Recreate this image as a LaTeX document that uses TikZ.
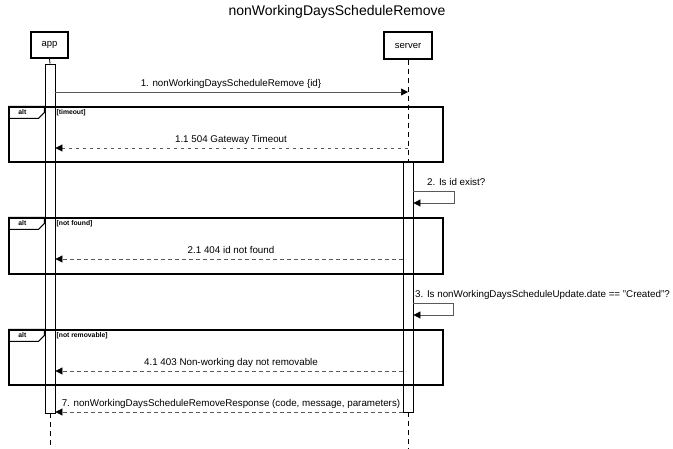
\documentclass[tikz,border=0pt]{standalone}
\usepackage{fontspec}
\setmainfont{Liberation Sans}
\usetikzlibrary{arrows.meta,calc}
\begin{document}
\begin{tikzpicture}[x=1pt,y=-1pt,
  msg/.style={draw=black!65, line width=0.7pt, -{Triangle[length=7pt,width=7pt,color=black]}},
  ret/.style={msg, dash pattern=on 3.5pt off 3.5pt},
  lbl/.style={font=\fontsize{9.8}{11}\selectfont, inner sep=0pt, anchor=base},
  actor/.style={draw, line width=1.2pt, inner sep=0pt, font=\fontsize{9.5}{10}\selectfont},
  bar/.style={draw, line width=0.8pt, fill=white, inner sep=0pt, minimum width=10pt},
  frame/.style={draw, line width=1.2pt, inner sep=0pt, minimum width=434pt},
  tab/.style={draw, line width=1pt},
  altlbl/.style={font=\bfseries\fontsize{6.8}{7}\selectfont, inner sep=0pt},
  guard/.style={font=\bfseries\fontsize{6.8}{7}\selectfont, inner sep=0pt, anchor=west},
  life/.style={draw, line width=0.8pt, dash pattern=on 5pt off 4pt}]
\useasboundingbox (0,0) rectangle (673,449);

% title
\node[font=\fontsize{14}{16}\selectfont, inner sep=0pt] (title) at (337,12) {nonWorkingDaysScheduleRemove};

% participants
\node[actor, minimum width=37pt, minimum height=26pt] (app) at (49.5,45) {app};
\node[actor, minimum width=48pt, minimum height=27pt] (server) at (408,45.5) {server};

% activation bars
\node[bar, minimum height=349pt] (appbar) at (50,238.5) {};
\node[bar, minimum height=250pt] (srvbar) at (408,287) {};

% lifelines
\coordinate (append) at (50,449);
\coordinate (srvend) at (408,449);
\draw[line width=0.8pt] (app.south) -- (appbar.north);
\draw[life] (appbar.south) -- (append);
\draw[life] (server.south) -- (srvbar.north);
\draw[life] (srvbar.south) -- (srvend);

% frames
\node[frame, minimum height=55pt] (alt1) at (226,134.5) {};
\node[frame, minimum height=56pt] (alt2) at (226,246) {};
\node[frame, minimum height=55pt] (alt3) at (226,357.5) {};

\draw[tab] (alt1.north west) -- ++(36,0) -- ++(0,6) -- ++(-6,6) -- ++(-30,0);
\node[altlbl] (alt1t) at ($(alt1.north west)+(14,6)$) {alt};
\node[guard] (alt1g) at ($(alt1.north west)+(48,6)$) {{[}timeout{]}};

\draw[tab] (alt2.north west) -- ++(36,0) -- ++(0,6) -- ++(-6,6) -- ++(-30,0);
\node[altlbl] (alt2t) at ($(alt2.north west)+(14,6)$) {alt};
\node[guard] (alt2g) at ($(alt2.north west)+(48,6)$) {{[}not found{]}};

\draw[tab] (alt3.north west) -- ++(36,0) -- ++(0,6) -- ++(-6,6) -- ++(-30,0);
\node[altlbl] (alt3t) at ($(alt3.north west)+(14,6)$) {alt};
\node[guard] (alt3g) at ($(alt3.north west)+(48,6)$) {{[}not removable{]}};

% message 1
\draw[msg] (appbar.east |- 0,92) -- (server.south |- 0,92);
\node[lbl] (l1) at (231,87) {1. nonWorkingDaysScheduleRemove \{id\}};

% 1.1
\draw[ret] (server.south |- 0,148) -- (appbar.east |- 0,148);
\node[lbl] (l11) at (231,143) {1.1 504 Gateway Timeout};

% 2 self
\draw[msg] (srvbar.east |- 0,191) -- (454,191) -- (454,203) -- (srvbar.east |- 0,203);
\node[lbl, anchor=base west] (l2) at (427,186) {2. Is id exist?};

% 2.1
\draw[ret] (srvbar.west |- 0,259) -- (appbar.east |- 0,259);
\node[lbl] (l21) at (231,254) {2.1 404 id not found};

% 3 self
\draw[msg] (srvbar.east |- 0,303) -- (453,303) -- (453,315) -- (srvbar.east |- 0,315);
\node[lbl, anchor=base west] (l3) at (415,298) {3. Is nonWorkingDaysScheduleUpdate.date == "Created"?};

% 4.1
\draw[ret] (srvbar.west |- 0,371) -- (appbar.east |- 0,371);
\node[lbl] (l41) at (231,366) {4.1 403 Non-working day not removable};

% 7
\draw[ret] (srvbar.west |- 0,412) -- (appbar.east |- 0,412);
\node[lbl] (l7) at (231,407) {7. nonWorkingDaysScheduleRemoveResponse (code, message, parameters)};
\end{tikzpicture}
\end{document}
